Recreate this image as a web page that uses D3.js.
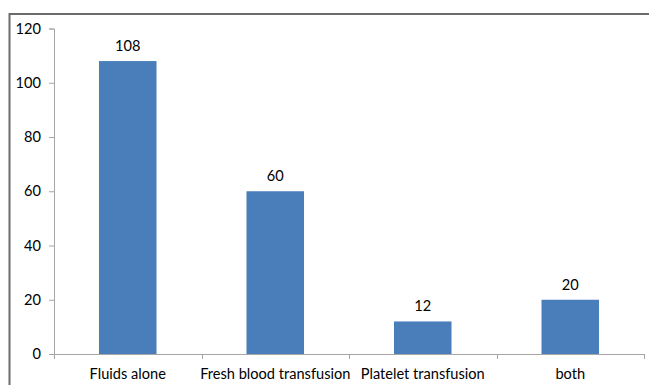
<!DOCTYPE html>
<html>
<head>
<meta charset="utf-8">
<script src="https://cdn.jsdelivr.net/npm/d3@7"></script>
<style>
  html, body { margin: 0; padding: 0; background: #fff; overflow: hidden; }
  svg { display: block; font-family: "Lato", "Open Sans", sans-serif; }
</style>
</head>
<body>
<svg id="chart" width="649" height="385"></svg>
<script>
// Treatment groups and patient counts
const categories = ["Fluids alone", "Fresh blood transfusion", "Platelet transfusion", "both"];
const counts = [108, 60, 12, 20];
const yTicks = [0, 20, 40, 60, 80, 100, 120];

const svg = d3.select("#chart");
const W = 649, H = 385;
const plot = { left: 54, right: 644, top: 28.5, bottom: 354 };
const fontSize = 14.6;

// Chart frame (runs past the right and bottom edges)
svg.append("rect")
  .attr("x", 9.5).attr("y", 14)
  .attr("width", W + 20).attr("height", H + 20)
  .attr("fill", "none")
  .attr("stroke", "#6b6b6b")
  .attr("stroke-width", 2);

const x = d3.scaleBand()
  .domain(categories)
  .range([plot.left, plot.right])
  .paddingInner(0.61)
  .paddingOuter(0.305);

const y = d3.scaleLinear()
  .domain([0, 120])
  .range([plot.bottom, plot.top]);

// Bars
svg.append("g").selectAll("rect")
  .data(categories)
  .join("rect")
  .attr("x", d => x(d))
  .attr("y", (d, i) => y(counts[i]))
  .attr("width", x.bandwidth())
  .attr("height", (d, i) => y(0) - y(counts[i]))
  .attr("fill", "#4a7ebb");

// Value labels
svg.append("g").selectAll("text")
  .data(categories)
  .join("text")
  .attr("x", d => x(d) + x.bandwidth() / 2)
  .attr("y", (d, i) => y(counts[i]) - 10)
  .attr("text-anchor", "middle")
  .attr("font-size", fontSize)
  .attr("fill", "#000")
  .text((d, i) => counts[i]);

// Y axis
const yAxis = svg.append("g")
  .attr("transform", `translate(${plot.left},0)`)
  .call(d3.axisLeft(y).tickValues(yTicks).tickSize(5).tickPadding(8));
yAxis.select(".domain").attr("stroke", "#a6a6a6");
yAxis.selectAll(".tick line").attr("stroke", "#a6a6a6");
yAxis.selectAll(".tick text")
  .attr("font-size", fontSize)
  .attr("font-family", "Lato, 'Open Sans', sans-serif")
  .attr("fill", "#000");

// X axis with ticks between categories
const xAxisG = svg.append("g");
xAxisG.append("line")
  .attr("x1", plot.left).attr("x2", plot.right)
  .attr("y1", plot.bottom + 0.5).attr("y2", plot.bottom + 0.5)
  .attr("stroke", "#a6a6a6");
const step = x.step();
const boundaries = d3.range(categories.length + 1).map(i => plot.left + i * step);
xAxisG.selectAll("line.tick")
  .data(boundaries)
  .join("line")
  .attr("class", "tick")
  .attr("x1", d => Math.round(d) + 0.5).attr("x2", d => Math.round(d) + 0.5)
  .attr("y1", plot.bottom).attr("y2", plot.bottom + 5)
  .attr("stroke", "#a6a6a6");
xAxisG.selectAll("text")
  .data(categories)
  .join("text")
  .attr("x", d => x(d) + x.bandwidth() / 2)
  .attr("y", 379)
  .attr("text-anchor", "middle")
  .attr("font-size", fontSize)
  .attr("fill", "#000")
  .text(d => d);
</script>
</body>
</html>
